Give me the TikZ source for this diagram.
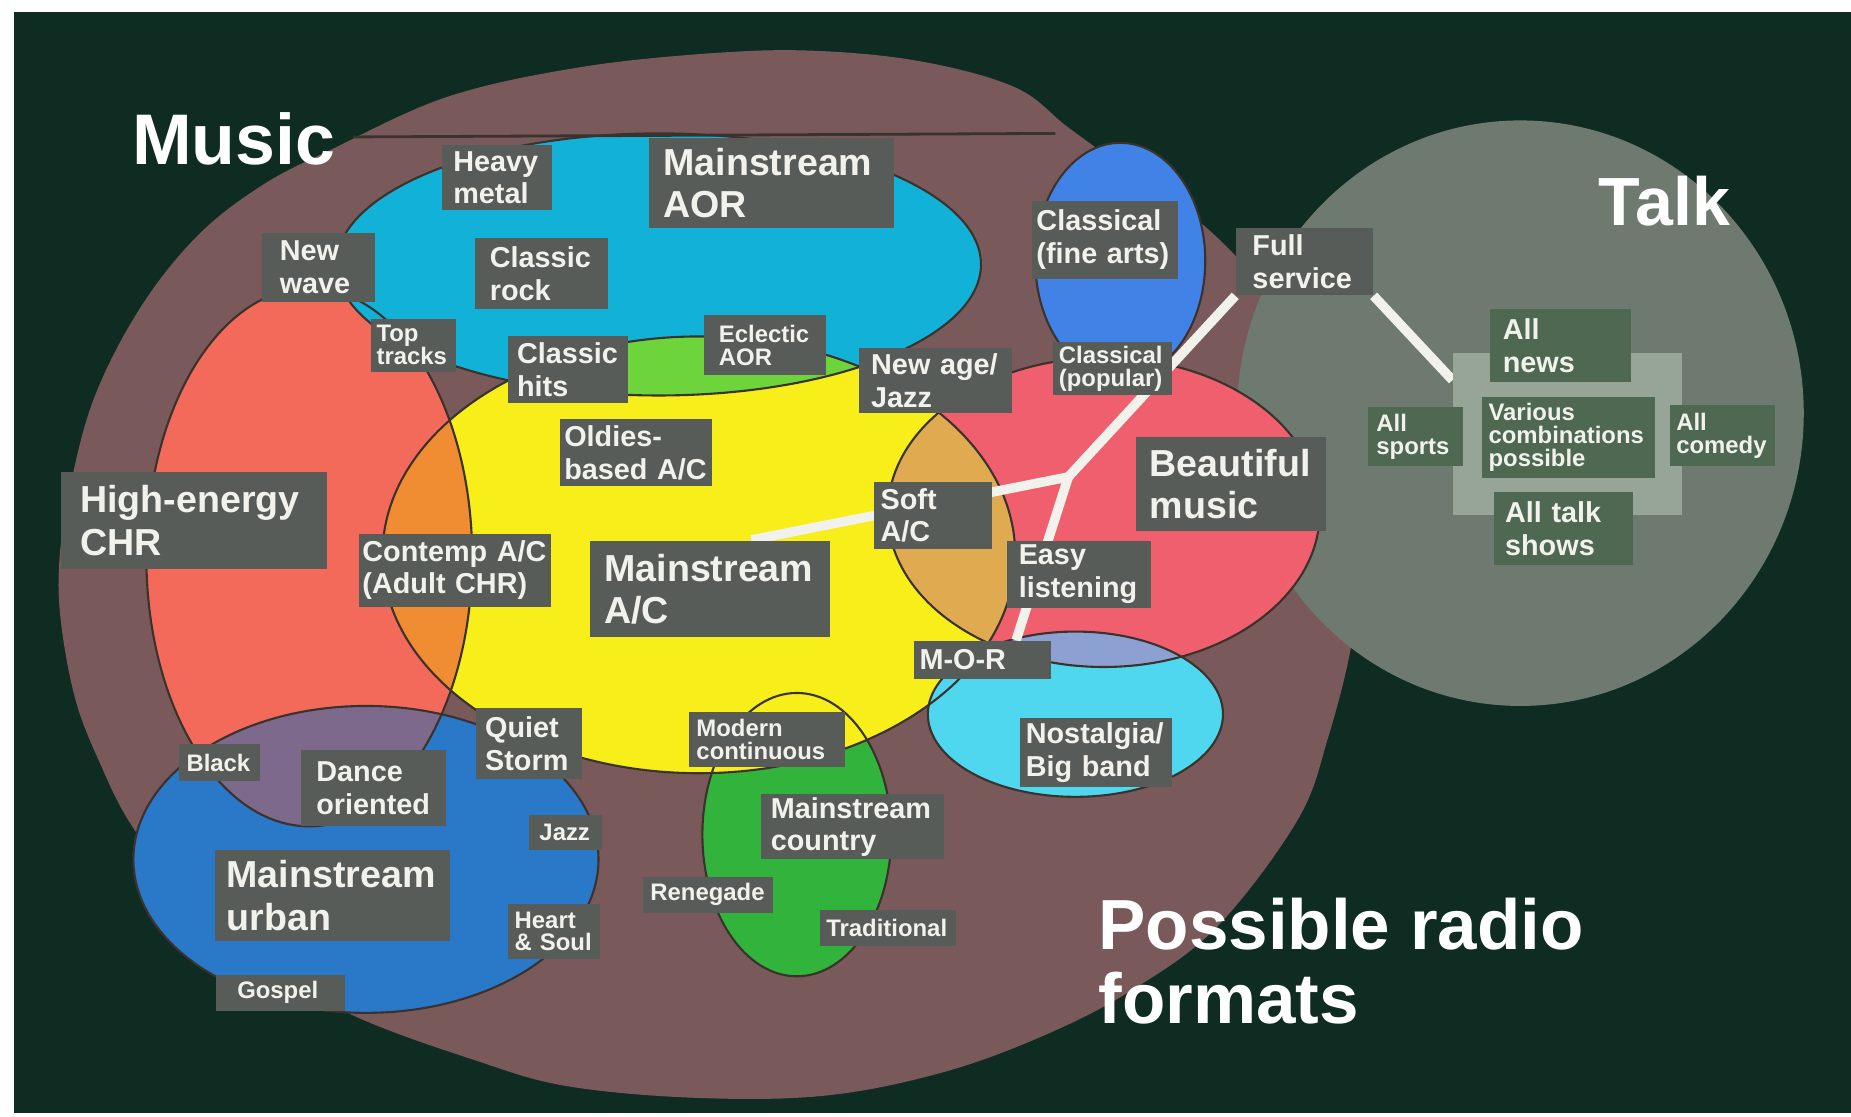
\documentclass[tikz,border=0pt]{standalone}
\usepackage{fontspec}
\setmainfont{Liberation Sans}
\definecolor{nightbg}{HTML}{0E2C22}
\definecolor{musicbrown}{HTML}{7A595B}
\definecolor{talkgray}{HTML}{6E7A70}
\definecolor{talkframe}{HTML}{96A596}
\definecolor{talkbox}{HTML}{4E6852}
\definecolor{boxgray}{HTML}{585C58}
\definecolor{labtext}{HTML}{F2F2EC}
\definecolor{rimcol}{HTML}{3A322C}
\definecolor{chrred}{HTML}{F46A5A}
\definecolor{urbanblue}{HTML}{2A78C8}
\definecolor{dancepurple}{HTML}{7D698C}
\definecolor{aorcyan}{HTML}{12B2D8}
\definecolor{hitsgreen}{HTML}{6ED43C}
\definecolor{acyellow}{HTML}{F8EE1A}
\definecolor{contorange}{HTML}{F08C32}
\definecolor{softtan}{HTML}{E0AA50}
\definecolor{beautpink}{HTML}{F05F6E}
\definecolor{classblue}{HTML}{4182E6}
\definecolor{nostcyan}{HTML}{50D7F0}
\definecolor{morblue}{HTML}{8CA0D2}
\definecolor{ctrygreen}{HTML}{32B43C}
\pgfdeclarelayer{back}
\pgfdeclarelayer{wires}
\pgfsetlayers{back,wires,main}
\def\px{0.0118048cm}
\begin{document}
\begin{tikzpicture}[x=\px, y=-\px,
		rim/.style={line width=0.6pt, draw=rimcol},
		wire/.style={line width=2.7pt, draw=labtext},
		lbl/.style={fill=boxgray, text=labtext, inner ysep=0pt, align=left},
		tlbl/.style={lbl, fill=talkbox},
		sz/.style n args={3}{inner xsep=#1*\px, text width=#2*\px, minimum height=#3*\px},
		fbig/.style={font=\fontsize{10.7}{12.1}\selectfont\bfseries},
		fmid/.style={font=\fontsize{8.2}{9.3}\selectfont\bfseries},
		fsml/.style={font=\fontsize{6.8}{6.5}\selectfont\bfseries},
		ttl/.style={text=white, inner sep=0pt, align=left},
		]
		
		\useasboundingbox (0,0) rectangle (1568,946);
		
		\def\eCHR{(262,472) ellipse [x radius=138, y radius=228]}
		\def\eUrb{(310,728) ellipse [x radius=197, y radius=130]}
		\def\eAOR{(558,224) ellipse [x radius=273, y radius=111]}
		\def\eAC{(592,470) ellipse [x radius=268, y radius=185]}
		\def\eBeau{(935,434) ellipse [x radius=183, y radius=131]}
		\def\eNost{(911,605) ellipse [x radius=125, y radius=70]}
		\def\eCty{(675,707) ellipse [x radius=80, y radius=120]}
		\def\eCls{(949,221) ellipse [x radius=72, y radius=100]}
		\def\eTalk{(1288,350) ellipse [x radius=240, y radius=248]}
		
		\begin{pgfonlayer}{back}
			%% -- ground and the Music field --
			\fill[nightbg] (12,10) rectangle (1568,943);
			\fill[musicbrown] plot[smooth cycle, tension=0.6] coordinates {
				(222,157) (282,126) (379,82) (491,57) (604,45) (690,43) (780,52)
				(860,74) (905,108) (960,148) (1021,192) (1070,245) (1110,315)
				(1138,400) (1150,480) (1145,545) (1125,625) (1099,695) (1031,785)
				(960,838) (887,876) (800,908) (700,928) (590,930) (480,920)
				(402,898) (301,861) (220,815) (160,760) (112,700) (84,645)
				(64,593) (52,530) (50,480) (58,420) (79,339) (118,262) (167,200)};
			
			%% -- the Talk field --
			\fill[talkgray] \eTalk;
			
			%% -- format ovals --
			\fill[chrred] \eCHR;
			\fill[urbanblue] \eUrb;
			\fill[aorcyan] \eAOR;
			\fill[classblue] \eCls;
			\fill[ctrygreen] \eCty;
			\fill[acyellow] \eAC;
			\fill[beautpink] \eBeau;
			\fill[nostcyan] \eNost;
			
			%% -- overlaps --
			\begin{scope} \clip \eAOR; \fill[hitsgreen] \eAC; \end{scope}
			\begin{scope} \clip \eCHR; \fill[contorange] \eAC; \end{scope}
			\begin{scope} \clip \eCHR; \fill[dancepurple] \eUrb; \end{scope}
			\begin{scope} \clip \eAC; \fill[softtan] \eBeau; \end{scope}
			\begin{scope} \clip \eBeau; \fill[morblue] \eNost; \end{scope}
			
			%% -- rims --
			\draw[rim] \eCHR;
			\draw[rim] \eUrb;
			\draw[rim] \eAOR;
			\draw[rim] \eCls;
			\draw[rim] \eCty;
			\draw[rim] \eAC;
			\draw[rim] \eBeau;
			\draw[rim] \eNost;
			\draw[rim, line width=0.8pt] (299,116) -- (894,113);
		\end{pgfonlayer}
		
		%% -- Talk frame --
		\node[fill=talkframe, minimum width=194*\px, minimum height=137*\px, inner sep=0pt] (frame) at (1328,367.5) {};
		
		%% -- Music labels --
		\node[lbl, fmid, sz={10}{74}{55}] (heavy) at (421,150.5) {Heavy\\metal};
		\node[lbl, fbig, sz={12}{183}{76}] (aor) at (653.5,155) {Mainstream\\AOR};
		\node[lbl, fmid, sz={15}{66}{59}] (newwave) at (270,226.5) {New\\wave};
		\node[lbl, fmid, sz={13}{87}{60}] (classrock) at (458.5,232) {Classic\\rock};
		\node[lbl, fsml, sz={5}{62}{45}] (toptracks) at (350,292.5) {Top\\tracks};
		\node[lbl, fmid, sz={8}{86}{56}] (classhits) at (481,313) {Classic\\hits};
		\node[lbl, fsml, sz={13}{78}{51}] (eclectic) at (648,292.5) {Eclectic\\AOR};
		\node[lbl, fmid, sz={10}{109}{55}] (newage) at (792.5,322.5) {New age/\\Jazz};
		\node[lbl, fmid, sz={4}{116}{66}] (classfine) at (936,203) {Classical\\(fine~arts)};
		\node[lbl, fsml, sz={5}{91}{45}] (classpop) at (942.5,312.5) {Classical\\(popular)};
		\node[lbl, fmid, sz={4}{121}{57}] (oldies) at (538.5,383.5) {Oldies-\\based~A/C};
		\node[lbl, fbig, sz={16}{193}{82}] (chr) at (164.5,441) {High-energy\\CHR};
		\node[lbl, fmid, sz={6}{88}{57}] (soft) at (790,436.5) {Soft\\A/C};
		\node[lbl, fbig, sz={12}{137}{80}] (beautiful) at (1042.5,410) {Beautiful\\music};
		\node[lbl, fmid, sz={3}{157}{62}] (contemp) at (385.5,483) {Contemp~A/C\\(Adult~CHR)};
		\node[lbl, fbig, sz={12}{179}{82}] (mainac) at (601.5,499) {Mainstream\\A/C};
		\node[lbl, fmid, sz={10}{102}{57}] (easy) at (914,486.5) {Easy\\listening};
		\node[lbl, fmid, sz={5}{106}{32}] (mor) at (832,559) {M-O-R};
		\node[lbl, fmid, sz={8}{74}{60}] (quiet) at (448,630) {Quiet\\Storm};
		\node[lbl, fsml, sz={6}{120}{47}] (modern) at (650,626.5) {Modern\\continuous};
		\node[lbl, fsml, sz={6}{56}{32}] (black) at (186,646) {Black};
		\node[lbl, fmid, sz={13}{97}{65}] (dance) at (316.5,667.5) {Dance\\oriented};
		\node[lbl, fmid, sz={5}{119}{59}] (nostalgia) at (928.5,637.5) {Nostalgia/\\Big~band};
		\node[lbl, fsml, sz={9}{44}{30}] (jazz) at (479,705) {Jazz};
		\node[lbl, fmid, sz={8}{139}{55}] (country) at (722.5,700.5) {Mainstream\\country};
		\node[lbl, fbig, sz={10}{179}{77}] (urban) at (281.5,758.5) {Mainstream\\urban};
		\node[lbl, fsml, sz={6}{98}{30}] (renegade) at (600,758) {Renegade};
		\node[lbl, fsml, sz={6}{66}{46}] (heart) at (469,789) {Heart\\\&~Soul};
		\node[lbl, fsml, sz={5}{105}{30}] (traditional) at (752.5,786) {Traditional};
		\node[lbl, fsml, sz={18}{73}{30}] (gospel) at (237.5,841) {Gospel};
		
		%% -- Talk labels --
		\node[lbl, fmid, sz={14}{88}{57}] (full) at (1105,221.5) {Full\\service};
		\node[tlbl, fmid, sz={11}{98}{62}] (news) at (1322,293) {All\\news};
		\node[tlbl, fsml, sz={7}{66}{50}] (sports) at (1199,370) {All\\sports};
		\node[tlbl, fsml, sz={6}{135}{69}] (various) at (1328.5,370.5) {Various\\combinations\\possible};
		\node[tlbl, fsml, sz={5}{79}{52}] (comedy) at (1459.5,369) {All\\comedy};
		\node[tlbl, fmid, sz={9}{99}{62}] (talkshows) at (1324.5,448) {All~talk\\shows};
		
		%% -- titles --
		\node[ttl, font=\fontsize{20.4}{21}\selectfont\bfseries] (music) at (198,118) {Music};
		\node[ttl, font=\fontsize{19.4}{20}\selectfont\bfseries] (talk) at (1410,170) {Talk};
		\node[ttl, anchor=west, font=\fontsize{20.2}{21.1}\selectfont\bfseries] (formats) at (930,814) {Possible radio\\formats};
		
		%% -- white links --
		\begin{pgfonlayer}{wires}
			\coordinate (hub) at (905,404);
			\draw[wire] (mainac.50) -- (hub);
			\draw[wire] (hub) -- (full.south west);
			\draw[wire] (hub) -- (mor.30);
			\draw[wire] (full.south east) -- (frame.155);
		\end{pgfonlayer}
		
	\end{tikzpicture}
\end{document}
